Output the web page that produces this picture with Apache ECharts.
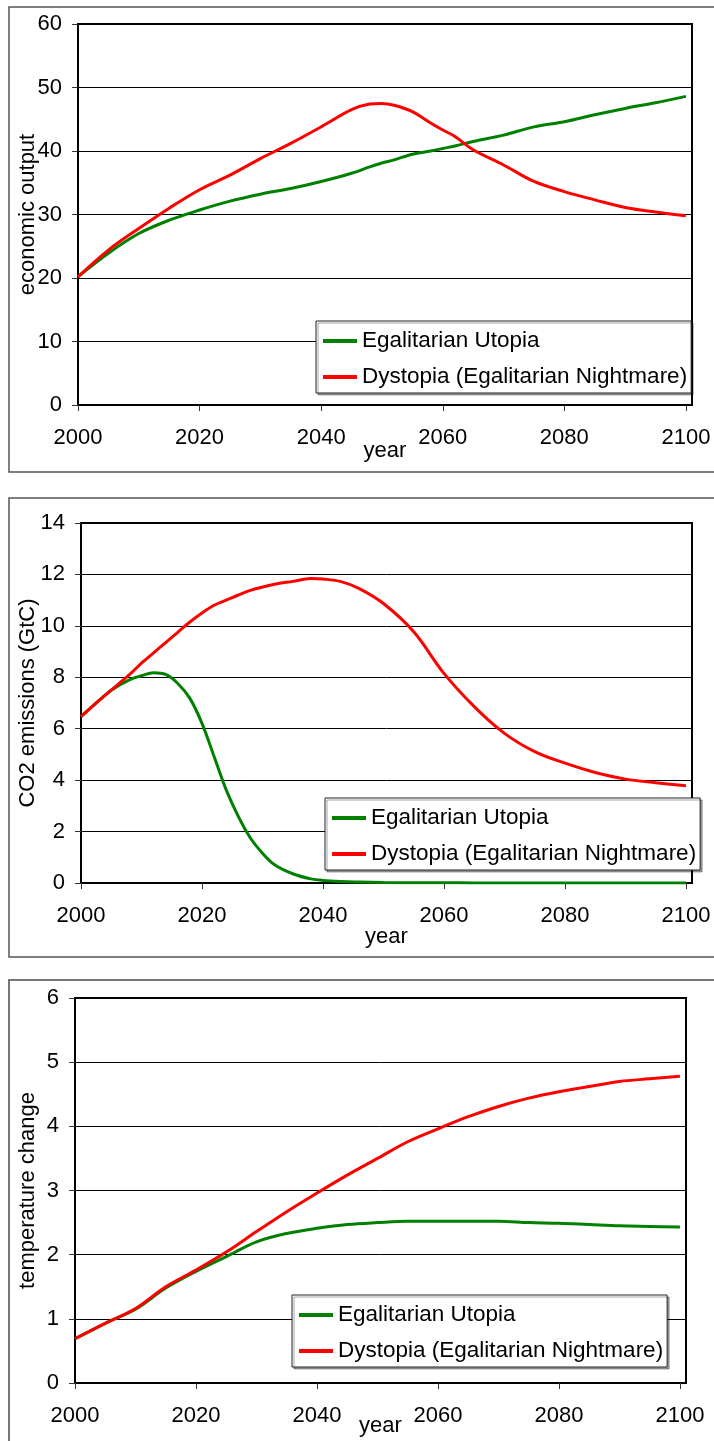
<!DOCTYPE html>
<html>
<head>
<meta charset="utf-8">
<script src="https://cdn.jsdelivr.net/npm/echarts@6/dist/echarts.min.js"></script>
<style>
  html, body { margin: 0; padding: 0; background: #fff; }
  #chart { width: 714px; height: 1441px; }
</style>
</head>
<body>
<div id="chart"></div>
<script>
// Scenario names
const seriesNames = ['Egalitarian Utopia', 'Dystopia (Egalitarian Nightmare)'];
const xTicks = [2000, 2020, 2040, 2060, 2080, 2100];

// Economic output
const yearsOutput = [2000, 2005, 2010, 2015, 2020, 2025, 2030, 2035, 2040, 2045, 2048, 2050, 2052, 2055, 2058, 2060, 2062, 2065, 2070, 2075, 2080, 2085, 2090, 2095, 2100];
const outputUtopia = [20.2, 23.9, 27.0, 29.1, 30.7, 32.1, 33.2, 34.1, 35.2, 36.5, 37.5, 38.1, 38.6, 39.5, 40.0, 40.4, 40.8, 41.5, 42.5, 43.8, 44.6, 45.7, 46.7, 47.6, 48.6];
const outputDystopia = [20.2, 24.4, 27.8, 31.0, 33.9, 36.2, 38.8, 41.2, 43.8, 46.5, 47.4, 47.5, 47.2, 46.2, 44.4, 43.3, 42.3, 40.2, 37.8, 35.2, 33.6, 32.3, 31.1, 30.4, 29.8];

// CO2 emissions (GtC)
const yearsCO2 = [2000, 2003, 2005, 2008, 2010, 2012, 2014, 2016, 2018, 2020, 2022, 2024, 2026, 2028, 2030, 2032, 2035, 2038, 2040, 2043, 2046, 2050, 2055, 2060, 2065, 2070, 2075, 2080, 2085, 2090, 2095, 2100];
const co2Utopia = [6.47, 7.1, 7.5, 7.9, 8.06, 8.18, 8.11, 7.76, 7.18, 6.21, 4.92, 3.62, 2.59, 1.75, 1.16, 0.71, 0.36, 0.16, 0.1, 0.06, 0.04, 0.02, 0.01, 0.01, 0, 0, 0, 0, 0, 0, 0, 0];
const co2Dystopia = [6.47, 7.1, 7.5, 8.1, 8.55, 8.95, 9.35, 9.75, 10.15, 10.5, 10.8, 11.0, 11.2, 11.38, 11.51, 11.62, 11.73, 11.84, 11.82, 11.72, 11.45, 10.87, 9.77, 8.15, 6.86, 5.82, 5.11, 4.66, 4.3, 4.04, 3.9, 3.78];

// Temperature change
const yearsTemp = [2000, 2005, 2010, 2015, 2020, 2025, 2030, 2035, 2040, 2045, 2050, 2055, 2060, 2065, 2070, 2075, 2080, 2085, 2090, 2095, 2100];
const tempUtopia = [0.69, 0.93, 1.15, 1.48, 1.74, 1.97, 2.2, 2.33, 2.41, 2.47, 2.5, 2.52, 2.52, 2.52, 2.52, 2.5, 2.49, 2.47, 2.45, 2.44, 2.43];
const tempDystopia = [0.69, 0.93, 1.16, 1.5, 1.76, 2.04, 2.36, 2.67, 2.96, 3.24, 3.5, 3.76, 3.96, 4.15, 4.31, 4.44, 4.54, 4.62, 4.70, 4.74, 4.78];

const FONT = "'Liberation Sans', Arial, sans-serif";
const GREEN = '#008000';
const RED = '#ff0000';

const panels = [
  { grid: { left: 78, top: 24, width: 614, height: 381 }, yMax: 60, yStep: 10, yName: 'economic output', yGap: 39, xGap: 35,
    years: yearsOutput, a: outputUtopia, b: outputDystopia, legend: { left: 316, top: 321 } },
  { grid: { left: 81, top: 523, width: 611, height: 360 }, yMax: 14, yStep: 2, yName: 'CO2 emissions (GtC)', yGap: 42, xGap: 43,
    years: yearsCO2, a: co2Utopia, b: co2Dystopia, legend: { left: 325, top: 798 } },
  { grid: { left: 75, top: 998, width: 611, height: 385 }, yMax: 6, yStep: 1, yName: 'temperature change', yGap: 36, xGap: 32,
    years: yearsTemp, a: tempUtopia, b: tempDystopia, legend: { left: 292, top: 1295 } }
];

const zip = (xs, ys) => xs.map((x, i) => [x, ys[i]]);

const option = {
  animation: false,
  backgroundColor: '#fff',
  textStyle: { fontFamily: FONT },
  graphic: [
    { type: 'rect', shape: { x: 9, y: 7, width: 720, height: 465 }, style: { fill: 'none', stroke: '#555', lineWidth: 1.5 }, z: 0 },
    { type: 'rect', shape: { x: 9, y: 498, width: 720, height: 459 }, style: { fill: 'none', stroke: '#555', lineWidth: 1.5 }, z: 0 },
    { type: 'rect', shape: { x: 9, y: 980, width: 720, height: 500 }, style: { fill: 'none', stroke: '#777', lineWidth: 2 }, z: 0 }
  ],
  grid: panels.map(p => Object.assign({ show: true, borderColor: '#000', borderWidth: 2, backgroundColor: 'transparent' }, p.grid)),
  xAxis: panels.map((p, i) => ({
    type: 'value', gridIndex: i, min: 2000, max: 2101,
    name: 'year', nameLocation: 'middle', nameGap: p.xGap, nameMoveOverlap: false,
    nameTextStyle: { fontSize: 22, color: '#000', fontFamily: FONT },
    axisLine: { show: true, lineStyle: { color: '#000', width: 2 } },
    axisTick: { show: true, length: 6, lineStyle: { color: '#333', width: 1 }, customValues: xTicks },
    axisLabel: { fontSize: 22, color: '#000', margin: 22, fontFamily: FONT, customValues: xTicks, formatter: v => String(v) },
    splitLine: { show: false }
  })),
  yAxis: panels.map((p, i) => ({
    type: 'value', gridIndex: i, min: 0, max: p.yMax, interval: p.yStep,
    name: p.yName, nameLocation: 'middle', nameGap: p.yGap, nameRotate: 90, nameMoveOverlap: false,
    nameTextStyle: { fontSize: 22, color: '#000', fontFamily: FONT },
    axisLine: { show: true, lineStyle: { color: '#000', width: 2 } },
    axisTick: { show: true, length: 6, lineStyle: { color: '#333', width: 1 } },
    axisLabel: { fontSize: 22, color: '#000', margin: 16, fontFamily: FONT },
    splitLine: { show: true, lineStyle: { color: '#000', width: 1 } }
  })),
  legend: panels.map((p, i) => ({
    left: p.legend.left, top: p.legend.top, orient: 'vertical',
    data: seriesNames.map(n => ({ name: n })),
    icon: 'rect', itemWidth: 34, itemHeight: 4, itemGap: 12,
    padding: [8, 4, 4, 7],
    backgroundColor: '#fff', borderColor: '#222', borderWidth: 1,
    shadowColor: 'rgba(0,0,0,0.35)', shadowOffsetX: 2, shadowOffsetY: 2, shadowBlur: 0,
    selectedMode: false,
    textStyle: { fontSize: 22.5, color: '#000', fontFamily: FONT, lineHeight: 24, padding: [0, 0, 0, 0] },
    z: 10
  })),
  series: panels.flatMap((p, i) => [
    { name: seriesNames[0], type: 'line', xAxisIndex: i, yAxisIndex: i, data: zip(p.years, p.a),
      symbol: 'none', smooth: 0.35, color: GREEN, lineStyle: { color: GREEN, width: 3 }, z: 3 },
    { name: seriesNames[1], type: 'line', xAxisIndex: i, yAxisIndex: i, data: zip(p.years, p.b),
      symbol: 'none', smooth: 0.35, color: RED, lineStyle: { color: RED, width: 3 }, z: 4 }
  ])
};

// each legend lists both scenarios; the series names are shared across panels
const chart = echarts.init(document.getElementById('chart'), null, { renderer: 'canvas' });
chart.setOption(option);
</script>
</body>
</html>
